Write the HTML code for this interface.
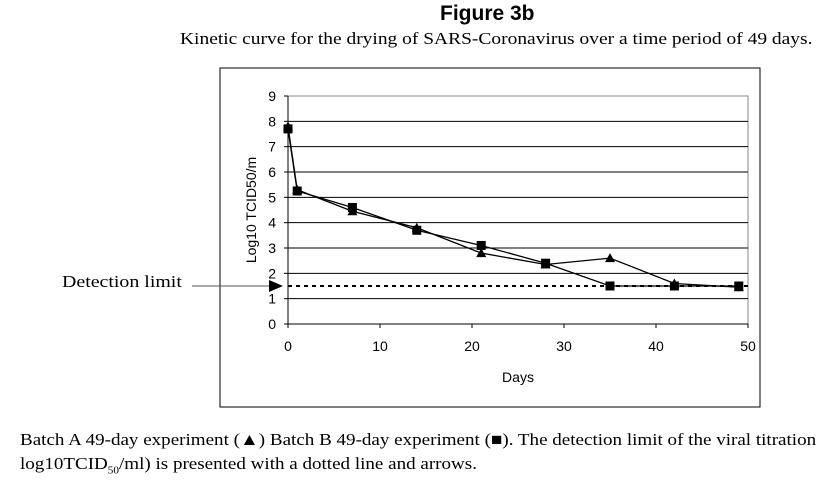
<!DOCTYPE html>
<html><head><meta charset="utf-8"><style>
body{margin:0;width:816px;height:481px;background:#fff;overflow:hidden;position:relative;font-family:"Liberation Serif",serif}
.t{position:absolute;white-space:nowrap;transform-origin:0 0}
</style></head><body>
<div class="t" style="left:440px;top:2px;font:bold 21px 'Liberation Sans',sans-serif">Figure 3b</div>
<div class="t" style="left:180px;top:29px;font-size:17px;transform:scaleX(1.145)">Kinetic curve for the drying of SARS-Coronavirus over a time period of 49 days.</div>
<div class="t" style="left:62px;top:272px;font-size:17px;transform:scaleX(1.17)">Detection limit</div>
<div class="t" style="left:20px;top:430px;font-size:17px;transform:scaleX(1.12)">Batch A 49-day experiment (▲) Batch B 49-day experiment (■). The detection limit of the viral titration</div>
<div class="t" style="left:20px;top:454px;font-size:17px;transform:scaleX(1.12)">log10TCID<sub style="font-size:10px">50</sub>/ml) is presented with a dotted line and arrows.</div>
<svg id="c" width="816" height="481" style="position:absolute;left:0;top:0"></svg>
<script>
const days=[0,1,7,14,21,28,35,42,49];
const batchA=[7.8,5.3,4.45,3.8,2.8,2.35,2.6,1.6,1.45];
const batchB=[7.7,5.25,4.6,3.7,3.1,2.4,1.5,1.5,1.5];
const xTicks=[0,10,20,30,40,50];
const yTicks=[0,1,2,3,4,5,6,7,8,9];
const detectionLimit=1.5;
const svg=document.getElementById('c');const NS='http://www.w3.org/2000/svg';
const X=v=>288+v*(748-288)/50, Y=v=>324-v*(324-96)/9;
function mk(t,a,p){const e=document.createElementNS(NS,t);for(const k in a)e.setAttribute(k,a[k]);(p||svg).appendChild(e);return e;}
let e=mk('rect',{x:220,y:68,width:540,height:339,fill:'none',stroke:'#000','stroke-width':1});


e=mk('polyline',{points:`${X(0)},${Y(9)} ${X(50)},${Y(9)} ${X(50)},${Y(0)}`,fill:'none',stroke:'#888'});


yTicks.forEach(v=>{
 if(v>0&&v<9){e=mk('line',{x1:X(0),x2:X(50),y1:Y(v),y2:Y(v),stroke:'#000'});
 
 }
 mk('line',{x1:X(0)-4,x2:X(0),y1:Y(v),y2:Y(v),stroke:'#000'});
 e=mk('text',{x:X(0)-12,y:Y(v)+5,'text-anchor':'end','font-family':'Liberation Sans,sans-serif','font-size':14});e.textContent=v;
 
 
});
xTicks.forEach(v=>{
 mk('line',{x1:X(v),x2:X(v),y1:Y(0),y2:Y(0)+4,stroke:'#000'});
 e=mk('text',{x:X(v),y:Y(0)+27,'text-anchor':'middle','font-family':'Liberation Sans,sans-serif','font-size':14});e.textContent=v;
 
 
});
mk('line',{x1:X(0),x2:X(0),y1:Y(9),y2:Y(0),stroke:'#000'});
mk('line',{x1:X(0),x2:X(50),y1:Y(0),y2:Y(0),stroke:'#000'});
e=mk('text',{x:518,y:382,'text-anchor':'middle','font-family':'Liberation Sans,sans-serif','font-size':14});e.textContent='Days';


e=mk('text',{x:0,y:0,transform:`translate(256,${Y(4.5)}) rotate(-90)`,'text-anchor':'middle','font-family':'Liberation Sans,sans-serif','font-size':14});e.textContent='Log10 TCID50/m';


e=mk('line',{x1:X(0),x2:X(50),y1:Y(detectionLimit),y2:Y(detectionLimit),stroke:'#000','stroke-width':2,'stroke-dasharray':'4,4'});


e=mk('line',{x1:192,x2:272,y1:Y(detectionLimit),y2:Y(detectionLimit),stroke:'#555'});


e=mk('polygon',{points:`${269},${Y(detectionLimit)-6} ${283},${Y(detectionLimit)} ${269},${Y(detectionLimit)+6}`,fill:'#000'});


function series(vals,name,marker){
 const l=mk('polyline',{points:days.map((d,i)=>X(d)+','+Y(vals[i])).join(' '),fill:'none',stroke:'#000','stroke-width':1.3});
 
 
 days.forEach((d,i)=>{const x=X(d),y=Y(vals[i]);let m;
  if(marker==='tri')m=mk('polygon',{points:`${x-5},${y+4} ${x+5},${y+4} ${x},${y-5}`,fill:'#000'});
  else m=mk('rect',{x:x-4.5,y:y-4.5,width:9,height:9,fill:'#000'});
  
  
 });
}
series(batchA,'batch-a','tri');
series(batchB,'batch-b','sq');
</script>
</body></html>
